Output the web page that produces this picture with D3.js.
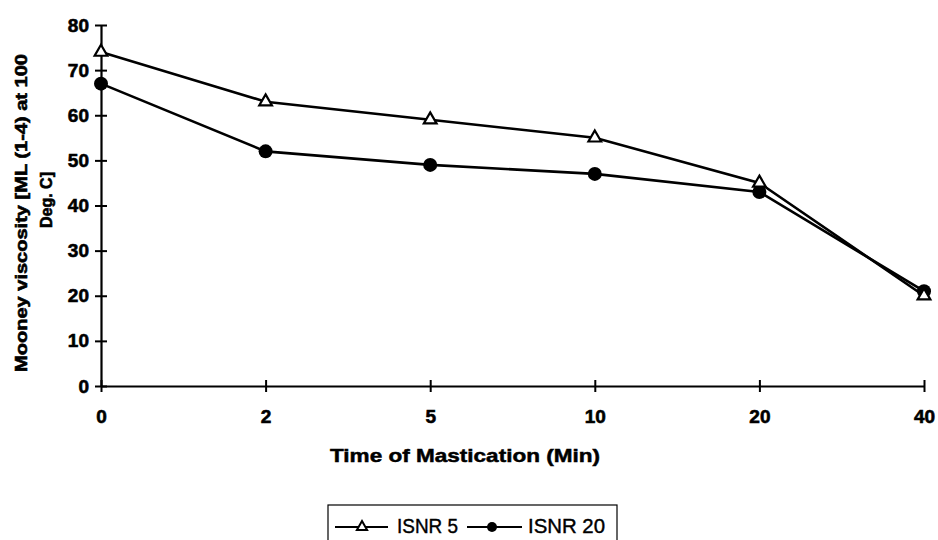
<!DOCTYPE html>
<html><head><meta charset="utf-8">
<script src="https://cdn.jsdelivr.net/npm/d3@7"></script>
<style>body{margin:0;background:#fff}svg{display:block}</style>
</head><body>
<svg id="c" width="938" height="540"></svg>
<script>
const categories = ["0","2","5","10","20","40"];
const isnr5 = [74, 63, 59, 55, 45, 20];
const isnr20 = [67, 52, 49, 47, 43, 21];
const yTicks = [0,10,20,30,40,50,60,70,80];
const seriesNames = ["ISNR 5", "ISNR 20"];

(function(){
const svg = d3.select("#c");
const mLeft = 101, mRight = 924, mTop = 25, mBottom = 386;
const x = d3.scalePoint().domain(categories).range([mLeft, mRight]);
const y = d3.scaleLinear().domain([0, 80]).range([mBottom, mTop]);
const font = "'Liberation Sans', Arial, sans-serif";

// Y axis
const ya = svg.append("g").attr("transform", `translate(${mLeft},0)`)
  .call(d3.axisLeft(y).tickValues(yTicks).tickSize(0).tickPadding(12));
ya.select(".domain").attr("stroke", "#000").attr("stroke-width", 2.2);
ya.selectAll(".tick text").attr("font-family", font).attr("font-weight", "bold").attr("font-size", 19)
  .attr("fill", "#000").attr("stroke", "#000").attr("stroke-width", 0.6);
ya.selectAll(".tick").append("line").attr("x1", -6).attr("x2", 6).attr("stroke", "#000").attr("stroke-width", 2);

// X axis
const xa = svg.append("g").attr("transform", `translate(0,${mBottom})`)
  .call(d3.axisBottom(x).tickSize(0).tickPadding(24));
xa.select(".domain").attr("stroke", "#000").attr("stroke-width", 2.2);
xa.selectAll(".tick text").attr("font-family", font).attr("font-weight", "bold").attr("font-size", 19)
  .attr("fill", "#000").attr("stroke", "#000").attr("stroke-width", 0.6);
xa.selectAll(".tick").append("line").attr("y1", -6).attr("y2", 6).attr("stroke", "#000").attr("stroke-width", 2);

// Lines
const line = d3.line().x((d, i) => x(categories[i])).y(d => y(d));
[isnr5, isnr20].forEach(s => {
  svg.append("path").datum(s).attr("d", line).attr("fill", "none").attr("stroke", "#000").attr("stroke-width", 2.6);
});

// Markers
const tri = d3.symbol().type(d3.symbolTriangle).size(70);
svg.selectAll(".m20").data(isnr20).enter().append("circle")
  .attr("cx", (d, i) => x(categories[i])).attr("cy", d => y(d)).attr("r", 7).attr("fill", "#000");
svg.selectAll(".m5").data(isnr5).enter().append("path")
  .attr("d", tri).attr("transform", (d, i) => `translate(${x(categories[i])},${y(d)})`)
  .attr("fill", "#fff").attr("stroke", "#000").attr("stroke-width", 2.2);

// Axis titles
svg.append("text").attr("x", 465).attr("y", 462).attr("text-anchor", "middle")
  .attr("font-family", font).attr("font-weight", "bold").attr("font-size", 19)
  .attr("stroke", "#000").attr("stroke-width", 0.5)
  .attr("textLength", 270).attr("lengthAdjust", "spacingAndGlyphs")
  .text("Time of Mastication (Min)");
const ytStyle = t => t.attr("text-anchor", "middle").attr("font-family", font).attr("font-weight", "bold")
  .attr("font-size", 17).attr("stroke", "#000").attr("stroke-width", 0.6);
svg.append("text").attr("transform", "translate(27,213) rotate(-90)").call(ytStyle)
  .attr("textLength", 318).attr("lengthAdjust", "spacingAndGlyphs")
  .text("Mooney viscosity [ML (1-4) at 100");
svg.append("text").attr("transform", "translate(52,200) rotate(-90)").call(ytStyle)
  .attr("textLength", 56).attr("lengthAdjust", "spacingAndGlyphs")
  .text("Deg. C]");

// Legend
const lg = svg.append("g");
lg.append("rect").attr("x", 328).attr("y", 505).attr("width", 289).attr("height", 50)
  .attr("fill", "none").attr("stroke", "#000").attr("stroke-width", 1.2);
const ly = 527;
lg.append("line").attr("x1", 335).attr("x2", 388).attr("y1", ly).attr("y2", ly).attr("stroke", "#000").attr("stroke-width", 2.2);
lg.append("path").attr("d", d3.symbol().type(d3.symbolTriangle).size(45)).attr("transform", `translate(362,${ly})`)
  .attr("fill", "#fff").attr("stroke", "#000").attr("stroke-width", 2);
lg.append("text").attr("x", 397).attr("y", 533).attr("font-family", font).attr("font-size", 20)
  .attr("stroke", "#000").attr("stroke-width", 0.4)
  .attr("textLength", 61).attr("lengthAdjust", "spacingAndGlyphs").text(seriesNames[0]);
lg.append("line").attr("x1", 467).attr("x2", 522).attr("y1", ly).attr("y2", ly).attr("stroke", "#000").attr("stroke-width", 2.2);
lg.append("circle").attr("cx", 492).attr("cy", ly).attr("r", 5).attr("fill", "#000");
lg.append("text").attr("x", 528).attr("y", 533).attr("font-family", font).attr("font-size", 20)
  .attr("stroke", "#000").attr("stroke-width", 0.4)
  .attr("textLength", 77).attr("lengthAdjust", "spacingAndGlyphs").text(seriesNames[1]);
})();
</script>
</body></html>
